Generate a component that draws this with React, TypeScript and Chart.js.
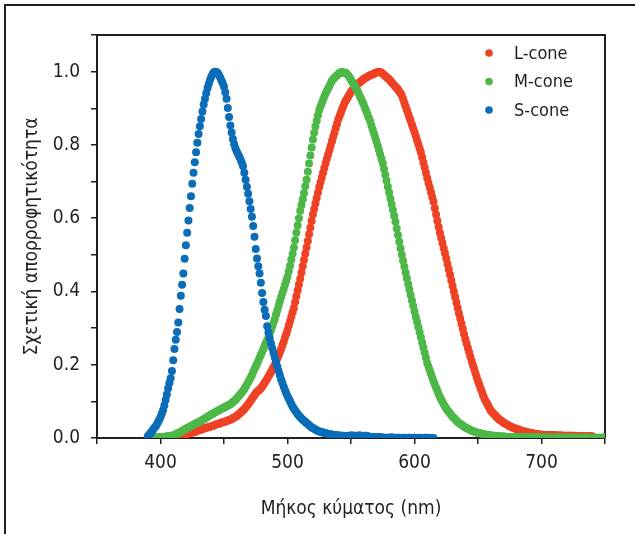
import { useEffect, useRef } from 'react';
import { Chart, registerables } from 'chart.js';

Chart.register(...registerables);

const FONT = "'Liberation Sans Narrow', 'DejaVu Sans Condensed', 'Arial Narrow', sans-serif";
const INK = '#231f20';

const SERIES_LABELS = ['L-cone', 'M-cone', 'S-cone'];
const SERIES_COLORS = ['#ef4124', '#4db848', '#0b6cb8'];
const X_TITLE = 'Μήκος κύματος (nm)';
const Y_TITLE = 'Σχετική απορροφητικότητα';

const X_MIN = 350;
const X_MAX = 750;
const X_STEP = 50;
const X_LABEL_EVERY = 100;
const Y_MIN = 0;
const Y_MAX = 1.1;
const Y_STEP = 0.1;

// wavelength of the first sample of each series (1 nm sampling)
const L_START = 390;
const M_START = 390;
const S_START = 390;

const L_VALUES = [
  0.000,0.000,0.000,0.001,0.001,0.001,0.001,0.001,0.001,0.002,
  0.002,0.002,0.002,0.002,0.002,0.002,0.002,0.003,0.003,0.003,
  0.003,0.003,0.004,0.004,0.005,0.005,0.006,0.007,0.008,0.009,
  0.010,0.011,0.012,0.013,0.014,0.015,0.016,0.017,0.018,0.020,
  0.021,0.022,0.023,0.024,0.026,0.027,0.028,0.029,0.030,0.031,
  0.032,0.033,0.034,0.036,0.037,0.038,0.039,0.040,0.042,0.043,
  0.044,0.045,0.046,0.048,0.049,0.050,0.052,0.054,0.056,0.058,
  0.060,0.063,0.066,0.069,0.072,0.075,0.079,0.083,0.088,0.092,
  0.097,0.102,0.107,0.112,0.117,0.122,0.126,0.129,0.132,0.136,
  0.140,0.145,0.151,0.156,0.162,0.168,0.174,0.180,0.187,0.193,
  0.200,0.208,0.217,0.225,0.234,0.243,0.253,0.263,0.274,0.284,
  0.295,0.307,0.319,0.331,0.343,0.355,0.371,0.387,0.403,0.419,
  0.435,0.452,0.469,0.486,0.503,0.520,0.538,0.556,0.574,0.592,
  0.610,0.625,0.640,0.655,0.670,0.685,0.698,0.711,0.724,0.737,
  0.750,0.762,0.774,0.786,0.798,0.810,0.822,0.834,0.846,0.858,
  0.870,0.879,0.888,0.897,0.906,0.915,0.921,0.927,0.933,0.939,
  0.945,0.949,0.953,0.957,0.961,0.965,0.968,0.971,0.974,0.977,
  0.980,0.982,0.984,0.986,0.988,0.990,0.991,0.993,0.994,0.996,
  0.997,0.999,1.000,0.999,0.997,0.994,0.991,0.988,0.985,0.982,
  0.979,0.975,0.971,0.967,0.963,0.959,0.955,0.951,0.946,0.941,
  0.935,0.925,0.915,0.905,0.895,0.885,0.875,0.865,0.855,0.845,
  0.835,0.824,0.813,0.802,0.791,0.780,0.766,0.752,0.738,0.724,
  0.710,0.697,0.684,0.671,0.658,0.645,0.627,0.610,0.593,0.576,
  0.560,0.546,0.532,0.518,0.504,0.490,0.475,0.460,0.445,0.430,
  0.415,0.400,0.385,0.370,0.355,0.340,0.326,0.312,0.298,0.284,
  0.270,0.258,0.246,0.234,0.222,0.210,0.199,0.188,0.177,0.166,
  0.155,0.146,0.136,0.127,0.117,0.108,0.101,0.095,0.088,0.082,
  0.075,0.071,0.067,0.064,0.060,0.056,0.053,0.050,0.048,0.045,
  0.042,0.040,0.038,0.036,0.034,0.032,0.031,0.029,0.028,0.026,
  0.025,0.024,0.023,0.021,0.020,0.019,0.018,0.017,0.017,0.016,
  0.015,0.014,0.013,0.013,0.012,0.011,0.011,0.010,0.010,0.009,
  0.009,0.009,0.009,0.008,0.008,0.008,0.008,0.008,0.008,0.008,
  0.008,0.007,0.007,0.007,0.007,0.007,0.007,0.006,0.006,0.006,
  0.006,0.006,0.006,0.006,0.006,0.006,0.005,0.006,0.005,0.005,
  0.005,0.005,0.005,0.005,0.005,0.005,0.005,0.005,0.005,0.005,
  0.005,
];

const M_VALUES = [
  0.000,0.000,0.001,0.001,0.001,0.001,0.001,0.002,0.002,0.002,
  0.002,0.002,0.003,0.003,0.004,0.004,0.005,0.005,0.006,0.006,
  0.007,0.008,0.010,0.012,0.013,0.015,0.017,0.019,0.021,0.023,
  0.025,0.027,0.029,0.031,0.032,0.034,0.036,0.038,0.040,0.041,
  0.043,0.045,0.047,0.049,0.051,0.053,0.055,0.057,0.060,0.062,
  0.064,0.066,0.068,0.070,0.072,0.074,0.076,0.078,0.080,0.081,
  0.083,0.085,0.087,0.089,0.090,0.092,0.095,0.098,0.101,0.104,
  0.108,0.112,0.116,0.120,0.124,0.128,0.134,0.140,0.146,0.152,
  0.158,0.165,0.172,0.180,0.188,0.195,0.203,0.211,0.219,0.227,
  0.235,0.243,0.251,0.259,0.267,0.276,0.285,0.295,0.305,0.315,
  0.325,0.337,0.349,0.361,0.373,0.385,0.396,0.407,0.418,0.429,
  0.440,0.455,0.470,0.487,0.503,0.520,0.540,0.560,0.580,0.600,
  0.620,0.636,0.652,0.668,0.687,0.705,0.727,0.749,0.771,0.793,
  0.815,0.833,0.850,0.866,0.881,0.895,0.905,0.914,0.923,0.932,
  0.940,0.947,0.954,0.961,0.968,0.975,0.979,0.983,0.987,0.990,
  0.993,0.996,0.998,1.000,0.997,0.996,0.997,0.993,0.989,0.984,
  0.978,0.972,0.966,0.960,0.954,0.948,0.941,0.933,0.926,0.918,
  0.910,0.901,0.892,0.883,0.874,0.865,0.854,0.843,0.832,0.821,
  0.810,0.798,0.786,0.774,0.762,0.750,0.734,0.718,0.702,0.686,
  0.670,0.654,0.638,0.622,0.606,0.590,0.572,0.554,0.536,0.518,
  0.500,0.484,0.468,0.452,0.436,0.420,0.405,0.390,0.375,0.360,
  0.345,0.331,0.317,0.303,0.289,0.275,0.261,0.247,0.233,0.219,
  0.205,0.195,0.185,0.175,0.165,0.155,0.146,0.137,0.129,0.120,
  0.112,0.105,0.099,0.092,0.086,0.080,0.076,0.071,0.067,0.062,
  0.058,0.055,0.051,0.048,0.044,0.041,0.039,0.036,0.034,0.031,
  0.029,0.027,0.025,0.024,0.022,0.020,0.019,0.018,0.016,0.015,
  0.014,0.013,0.012,0.012,0.011,0.010,0.009,0.009,0.008,0.008,
  0.007,0.007,0.006,0.006,0.005,0.005,0.005,0.004,0.004,0.004,
  0.004,0.004,0.003,0.003,0.003,0.003,0.003,0.003,0.003,0.003,
  0.003,0.002,0.002,0.002,0.002,0.002,0.003,0.002,0.002,0.002,
  0.002,0.002,0.002,0.002,0.001,0.002,0.002,0.002,0.001,0.001,
  0.001,0.002,0.002,0.001,0.001,0.001,0.002,0.001,0.001,0.001,
  0.001,0.001,0.002,0.002,0.001,0.001,0.001,0.001,0.001,0.001,
  0.001,0.001,0.001,0.002,0.001,0.001,0.001,0.001,0.001,0.001,
  0.001,0.001,0.001,0.001,0.001,0.002,0.001,0.001,0.001,0.001,
  0.001,0.001,0.001,0.001,0.001,0.001,0.001,0.001,0.001,0.002,
  0.002,
];

const S_VALUES = [
  0.005,0.008,0.012,0.017,0.022,0.027,0.031,0.036,0.043,0.050,
  0.057,0.066,0.076,0.089,0.104,0.119,0.136,0.150,0.163,0.183,
  0.212,0.243,0.268,0.289,0.315,0.352,0.388,0.418,0.449,0.489,
  0.526,0.560,0.594,0.628,0.660,0.694,0.724,0.753,0.780,0.806,
  0.830,0.851,0.871,0.891,0.910,0.926,0.941,0.955,0.966,0.977,
  0.986,0.993,0.998,1.000,0.999,0.996,0.991,0.984,0.976,0.968,
  0.959,0.944,0.926,0.901,0.876,0.853,0.834,0.816,0.802,0.791,
  0.782,0.775,0.768,0.760,0.752,0.742,0.724,0.705,0.686,0.667,
  0.646,0.625,0.604,0.579,0.549,0.516,0.490,0.469,0.449,0.424,
  0.396,0.371,0.350,0.333,0.305,0.288,0.272,0.258,0.245,0.232,
  0.220,0.207,0.195,0.183,0.171,0.160,0.150,0.140,0.131,0.122,
  0.114,0.107,0.100,0.093,0.086,0.080,0.075,0.070,0.065,0.061,
  0.057,0.053,0.050,0.047,0.044,0.041,0.038,0.035,0.032,0.029,
  0.027,0.025,0.023,0.021,0.019,0.018,0.017,0.016,0.015,0.014,
  0.013,0.012,0.011,0.011,0.010,0.009,0.009,0.008,0.008,0.007,
  0.007,0.007,0.006,0.006,0.006,0.005,0.005,0.005,0.006,0.006,
  0.007,0.007,0.006,0.006,0.005,0.006,0.007,0.007,0.006,0.005,
  0.005,0.006,0.006,0.005,0.004,0.003,0.003,0.003,0.002,0.002,
  0.002,0.002,0.002,0.002,0.002,0.001,0.001,0.001,0.001,0.001,
  0.001,0.001,0.002,0.001,0.001,0.000,0.001,0.001,0.001,0.000,
  0.000,0.001,0.001,0.000,0.000,0.001,0.001,0.000,0.000,0.001,
  0.001,0.000,0.000,0.001,0.001,0.000,0.000,0.000,0.001,0.001,
  0.000,0.000,0.001,0.000,0.000,0.000,
];

const SERIES_VALUES = [L_VALUES, M_VALUES, S_VALUES];
const SERIES_STARTS = [L_START, M_START, S_START];
// draw order: S on top, then M, then L
const SERIES_ORDER = [2, 1, 0];

const framePlugin = {
  id: 'plotFrame',
  beforeDatasetsDraw(chart: any) {
    const { ctx, chartArea } = chart;
    const { left, top, right, bottom } = chartArea;
    ctx.save();
    ctx.strokeStyle = INK;
    ctx.lineWidth = 2;
    ctx.beginPath();
    ctx.moveTo(left, top);
    ctx.lineTo(right, top);
    ctx.lineTo(right, bottom);
    ctx.stroke();
    ctx.restore();
  },
};

const legendPlugin = {
  id: 'coneLegend',
  afterDraw(chart: any) {
    const { ctx, chartArea } = chart;
    ctx.save();
    ctx.font = `18px ${FONT}`;
    ctx.textBaseline = 'middle';
    ctx.textAlign = 'left';
    SERIES_LABELS.forEach((label, i) => {
      const cx = chartArea.right - 116;
      const cy = chartArea.top + 18 + i * 28.5;
      ctx.beginPath();
      ctx.arc(cx, cy, 3.8, 0, Math.PI * 2);
      ctx.fillStyle = SERIES_COLORS[i];
      ctx.fill();
      ctx.fillStyle = INK;
      ctx.fillText(label, cx + 25, cy + 1);
    });
    ctx.restore();
  },
};

export default function App() {
  const canvasRef = useRef<HTMLCanvasElement | null>(null);

  useEffect(() => {
    if (!canvasRef.current) return;
    const datasets = SERIES_LABELS.map((label, i) => ({
      label,
      data: SERIES_VALUES[i].map((v, k) => ({ x: SERIES_STARTS[i] + k, y: v })),
      backgroundColor: SERIES_COLORS[i],
      borderColor: SERIES_COLORS[i],
      pointRadius: 4,
      pointBorderWidth: 0,
      pointHoverRadius: 4,
      showLine: false,
      order: SERIES_ORDER[i],
    }));

    const chart = new Chart(canvasRef.current, {
      type: 'scatter',
      data: { datasets },
      options: {
        animation: false,
        responsive: false,
        devicePixelRatio: 1,
        events: [],
        layout: { padding: { left: 0, top: 35, right: 30, bottom: 0 } },
        plugins: {
          legend: { display: false },
          tooltip: { enabled: false },
        },
        scales: {
          x: {
            type: 'linear',
            min: X_MIN,
            max: X_MAX,
            afterFit: (s: any) => { s.height = 96; },
            ticks: {
              stepSize: X_STEP,
              autoSkip: false,
              maxRotation: 0,
              padding: 8,
              color: INK,
              font: { family: FONT, size: 19 },
              callback: (v: any) => (Math.round(v) % X_LABEL_EVERY === 0 ? String(Math.round(v)) : ''),
            },
            grid: { drawOnChartArea: false, drawTicks: true, tickLength: 6, color: INK, lineWidth: 1.5 },
            border: { display: true, color: INK, width: 2 },
            title: {
              display: true,
              text: X_TITLE,
              color: INK,
              font: { family: FONT, size: 19 },
              padding: { top: 0, bottom: 14 },
            },
          },
          y: {
            type: 'linear',
            min: Y_MIN,
            max: Y_MAX,
            afterFit: (s: any) => { s.width = 97; },
            ticks: {
              stepSize: Y_STEP,
              autoSkip: false,
              padding: 11,
              color: INK,
              font: { family: FONT, size: 19 },
              callback: (v: any) => {
                const r = Math.round(v * 10);
                return r % 2 === 0 && r <= 10 ? (r / 10).toFixed(1) : '';
              },
            },
            grid: { drawOnChartArea: false, drawTicks: true, tickLength: 6, color: INK, lineWidth: 1.5 },
            border: { display: true, color: INK, width: 2 },
            title: {
              display: true,
              text: Y_TITLE,
              color: INK,
              font: { family: FONT, size: 19 },
              padding: { top: 21, bottom: 0 },
            },
          },
        },
      },
      plugins: [framePlugin, legendPlugin],
    });
    return () => chart.destroy();
  }, []);

  return (
    <div style={{ position: 'fixed', left: 0, top: 0, width: 635, height: 534, overflow: 'hidden', background: '#fff' }}>
      <div style={{ position: 'absolute', left: 4, top: 4, width: 700, height: 700, border: `2px solid ${INK}` }} />
      <canvas ref={canvasRef} width={635} height={534} style={{ position: 'absolute', left: 0, top: 0 }} />
    </div>
  );
}
